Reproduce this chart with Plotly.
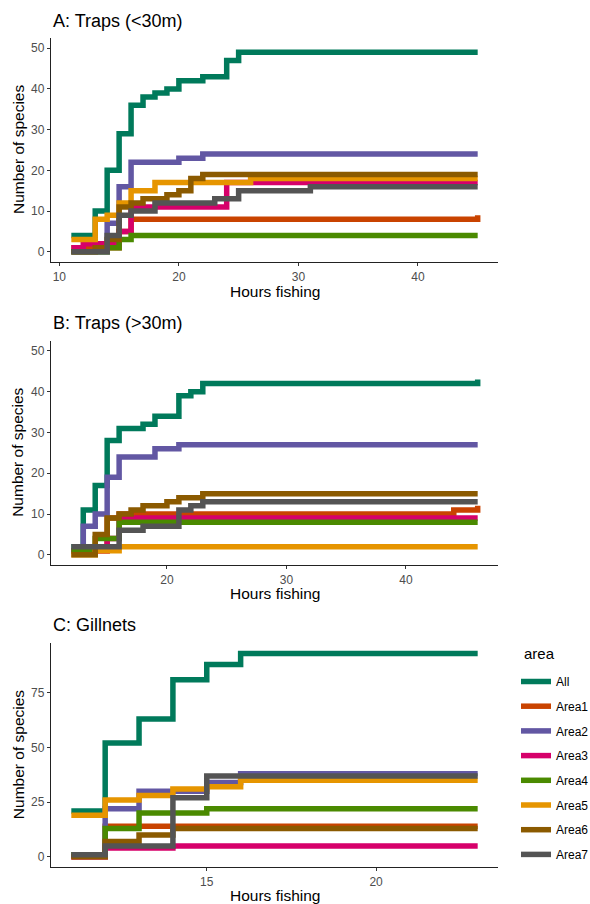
import plotly.graph_objects as go

# ---------------- data ----------------
areas = ["All", "Area1", "Area2", "Area3", "Area4", "Area5", "Area6", "Area7"]
colors = ["#007A5B", "#C94300", "#6257A3", "#D6006A", "#4A8A00", "#E69500", "#8B5A00", "#545454"]

# Panel A: Traps (<30m)  -- step points (hours, cumulative species)
a_hours = {
    "All":   [11, 13, 14, 15, 16, 17, 18, 19, 20, 22, 24, 25, 45],
    "Area1": [11, 15, 16, 45],
    "Area2": [11, 14, 15, 16, 20, 22, 45],
    "Area3": [11, 12, 15, 16, 24, 45],
    "Area4": [11, 14, 15, 16, 45],
    "Area5": [11, 13, 14, 15, 16, 18, 26, 45],
    "Area6": [11, 13, 14, 15, 16, 17, 19, 20, 21, 22, 45],
    "Area7": [11, 14, 15, 16, 18, 23, 25, 31, 45],
}
a_species = {
    "All":   [4, 10, 20, 29, 36, 38, 39, 40, 42, 43, 47, 49, 49],
    "Area1": [1, 5, 8, 9],
    "Area2": [0, 7, 16, 22, 23, 24, 24],
    "Area3": [1, 2, 5, 11, 17, 17],
    "Area4": [0, 1, 3, 4, 4],
    "Area5": [3, 8, 9, 12, 15, 17, 18, 18],
    "Area6": [0, 1, 3, 11, 12, 13, 14, 15, 18, 19, 19],
    "Area7": [0, 4, 9, 10, 12, 13, 15, 16, 16],
}

# Panel B: Traps (>30m)
b_hours = {
    "All":   [12, 13, 14, 15, 16, 18, 19, 21, 22, 23, 46],
    "Area1": [12, 15, 16, 44, 46],
    "Area2": [12, 13, 14, 15, 16, 19, 21, 46],
    "Area3": [12, 15, 16, 46],
    "Area4": [12, 14, 16, 46],
    "Area5": [12, 14, 16, 46],
    "Area6": [12, 14, 15, 16, 17, 18, 20, 21, 23, 46],
    "Area7": [12, 16, 18, 21, 22, 23, 46],
}
b_species = {
    "All":   [2, 11, 17, 28, 31, 32, 34, 39, 40, 42, 43],
    "Area1": [1, 9, 10, 11, 12],
    "Area2": [1, 7, 10, 19, 24, 26, 27, 27],
    "Area3": [1, 4, 9, 9],
    "Area4": [1, 4, 8, 8],
    "Area5": [0, 1, 2, 2],
    "Area6": [0, 5, 9, 10, 11, 12, 13, 14, 15, 15],
    "Area7": [2, 6, 7, 11, 12, 13, 13],
}

# Panel C: Gillnets
c_hours = {
    "All":   [11, 12, 13, 14, 15, 16, 23],
    "Area1": [11, 12, 23],
    "Area2": [11, 12, 13, 15, 16, 23],
    "Area3": [11, 12, 14, 23],
    "Area4": [11, 12, 13, 15, 23],
    "Area5": [11, 12, 13, 14, 15, 16, 23],
    "Area6": [11, 12, 13, 14, 23],
    "Area7": [11, 12, 14, 15, 23],
}
c_species = {
    "All":   [21, 52, 63, 81, 88, 93, 93],
    "Area1": [0, 14, 14],
    "Area2": [1, 22, 30, 34, 38, 38],
    "Area3": [0, 4, 5, 5],
    "Area4": [1, 13, 20, 22, 22],
    "Area5": [19, 26, 28, 31, 32, 35, 35],
    "Area6": [0, 7, 10, 13, 13],
    "Area7": [1, 5, 27, 37, 37],
}

panel_titles = ["A: Traps (<30m)", "B: Traps (>30m)", "C: Gillnets"]
x_label = "Hours fishing"
y_label = "Number of species"
legend_title = "area"

# ---------------- figure ----------------
W, H = 590, 904
ml, mr, mt, mb = 51, 92, 38, 37
pw = W - ml - mr
ph = H - mt - mb

def py(pix):
    return 1 - (pix - mt) / ph

def px(pix):
    return (pix - ml) / pw

def clamp(v):
    return min(1.0, max(0.0, v))

panels = [
    (a_hours, a_species, [9.3, 46.7], [-2.5, 52.5], 10, 10, (38, 262)),
    (b_hours, b_species, [10.3, 47.7], [-2.5, 52.5], 10, 10, (340.7, 565)),
    (c_hours, c_species, [10.4, 23.6], [-4.65, 97.65], 5, 25, (643.3, 867)),
]

fig = go.Figure()
layout = {}
for i, (hrs, spp, xr, yr, dx, dy, (top, bot)) in enumerate(panels):
    n = "" if i == 0 else str(i + 1)
    for area, col in zip(areas, colors):
        fig.add_trace(go.Scatter(
            x=hrs[area], y=spp[area], mode="lines",
            line=dict(color=col, width=5.5, shape="hv"),
            name=area, legendgroup=area, showlegend=(i == 2),
            xaxis="x" + n, yaxis="y" + n,
        ))
    common = dict(showline=True, linecolor="#222222", linewidth=1.4, ticks="outside",
                  ticklen=3, tickwidth=1.2, tickcolor="#333333", showgrid=False,
                  zeroline=False, tickfont=dict(size=12, color="#4D4D4D", family="Liberation Sans, Arial"))
    layout["xaxis" + n] = dict(common, range=xr, dtick=dx, domain=[0, 1],
                               anchor="y" + n)
    layout["yaxis" + n] = dict(common, range=yr, dtick=dy,
                               domain=[clamp(py(bot)), clamp(py(top))],
                               anchor="x" + n)

fig.update_layout(**layout)

ann = []
title_y = [20.7, 322.7, 625]
xlab_y = [291.7, 593, 895]
for i, (hrs, spp, xr, yr, dx, dy, (top, bot)) in enumerate(panels):
    ann.append(dict(text=panel_titles[i], x=0, y=py(title_y[i]), xref="paper", yref="paper",
                    xanchor="left", yanchor="middle", showarrow=False,
                    font=dict(size=18, color="#000000")))
    ann.append(dict(text=x_label, x=0.5, y=py(xlab_y[i]), xref="paper", yref="paper",
                    xanchor="center", yanchor="middle", showarrow=False,
                    font=dict(size=15.5, color="#000000")))
    ann.append(dict(text=y_label, x=px(18), y=py((top + bot) / 2),
                    xref="paper", yref="paper", xanchor="center", yanchor="middle",
                    textangle=-90, showarrow=False, font=dict(size=15.5, color="#000000")))

ann.append(dict(text=legend_title, x=px(522), y=py(653), xref="paper", yref="paper",
                xanchor="left", yanchor="middle", showarrow=False,
                font=dict(size=15, color="#000000")))

fig.update_layout(
    width=W, height=H,
    margin=dict(l=ml, r=mr, t=mt, b=mb, autoexpand=False),
    paper_bgcolor="white", plot_bgcolor="white",
    font=dict(family="Liberation Sans, Arial", color="#000000"),
    annotations=ann,
    legend=dict(x=px(516), y=py(667), xanchor="left", yanchor="top",
                font=dict(size=12), tracegroupgap=5.7, itemwidth=30,
                bgcolor="rgba(0,0,0,0)"),
)

fig.write_html("out.html", config={"displayModeBar": False},
               post_script="document.body.style.margin='0';document.body.style.overflow='hidden';")
